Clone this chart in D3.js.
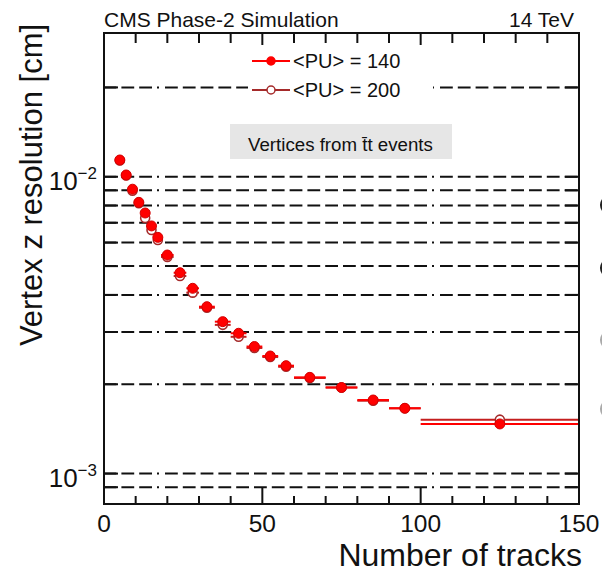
<!DOCTYPE html>
<html><head><meta charset="utf-8">
<script src="https://cdn.jsdelivr.net/npm/d3@7"></script>
<style>body{margin:0;background:#fff}svg{display:block}text{font-family:"Liberation Sans",Arial,sans-serif;fill:#111}</style>
</head><body>
<svg id="c" width="602" height="574"></svg>
<script>
// ---- data ----
const binCenter = [5,7,9,11,13,15,17,20,24,28,32.5,37.5,42.5,47.5,52.5,57.5,65,75,85,95,125];
const binLow    = [4,6,8,10,12,14,16,18,22,26,30,35,40,45,50,55,60,70,80,90,100];
const binHigh   = [6,8,10,12,14,16,18,22,26,30,35,40,45,50,55,60,70,80,90,100,150];
const res140 = [0.01139,0.01014,0.00908,0.00820,0.00755,0.00683,0.00625,0.00545,0.00475,0.00421,0.00365,0.00325,0.00297,0.00268,0.00249,0.00231,0.00211,0.00195,0.00177,0.00166,0.00147];
const res200 = [0.01135,0.01010,0.00897,0.00815,0.00726,0.00662,0.00612,0.00537,0.00463,0.00407,0.00362,0.00317,0.00289,0.00265,0.00247,0.00229,0.00210,0.00195,0.00176,0.00166,0.00152];
const xTickLabels = [0,50,100,150];
const xMinorTicks = [10,20,30,40,60,70,80,90,110,120,130,140];
const yGridValues = [0.02,0.01,0.009,0.008,0.007,0.006,0.005,0.004,0.003,0.002,0.001,0.0009];
const yLabelValues = [0.01,0.001];
const yLabelExp = ["\u22122","\u22123"];
const legendLabels = ["<PU> = 140","<PU> = 200"];

// ---- layout ----
const L=104,R=579,T=33,B=504;
const x=d3.scaleLinear().domain([0,150]).range([L,R]);
const y=d3.scaleLog().domain([0.00079,0.0305]).range([B,T]);
const svg=d3.select("#c");
const c140="#ff0000", c200="#c41e1e", cOpen="#a52a2a";

// gridlines (ROOT-like dash pattern with a dot every 275px)
let pat=[]; for(let i=0;i<15;i++){pat.push(12.8,5);} pat.push(2,6);
svg.append("g").selectAll("line").data(yGridValues).join("line")
  .attr("x1",L).attr("x2",R).attr("y1",d=>y(d)).attr("y2",d=>y(d))
  .attr("stroke","#111").attr("stroke-width",2)
  .attr("stroke-dasharray",pat.join(",")).attr("stroke-dashoffset",214);
// y ticks left/right
svg.append("g").selectAll("line").data(yGridValues).join("line")
  .attr("x1",L).attr("x2",L+14).attr("y1",d=>y(d)).attr("y2",d=>y(d)).attr("stroke","#111").attr("stroke-width",2);
svg.append("g").selectAll("line").data(yGridValues).join("line")
  .attr("x1",R-14).attr("x2",R).attr("y1",d=>y(d)).attr("y2",d=>y(d)).attr("stroke","#111").attr("stroke-width",2);

// x ticks bottom/top
const tk=svg.append("g").attr("stroke","#111").attr("stroke-width",2);
tk.selectAll(".mb").data(xMinorTicks).join("line").attr("x1",d=>x(d)).attr("x2",d=>x(d)).attr("y1",B).attr("y2",B-8);
tk.selectAll(".Mb").data(xTickLabels).join("line").attr("x1",d=>x(d)).attr("x2",d=>x(d)).attr("y1",B).attr("y2",B-16);
tk.selectAll(".mt").data(xMinorTicks).join("line").attr("x1",d=>x(d)).attr("x2",d=>x(d)).attr("y1",T).attr("y2",T+10);
tk.selectAll(".Mt").data(xTickLabels).join("line").attr("x1",d=>x(d)).attr("x2",d=>x(d)).attr("y1",T).attr("y2",T+13);

// legend box (white) over the gridline
svg.append("rect").attr("x",248).attr("y",45).attr("width",185).attr("height",60).attr("fill","#fff");
const lg=svg.append("g");
[0,1].forEach(i=>{
  const yy=61+i*29, col=i?cOpen:c140;
  lg.append("line").attr("x1",252).attr("x2",290).attr("y1",yy).attr("y2",yy).attr("stroke",col).attr("stroke-width",2);
  lg.append("circle").attr("cx",271).attr("cy",yy).attr("r",4).attr("fill",i?"#fff":c140).attr("stroke",col).attr("stroke-width",1.5);
  lg.append("text").attr("x",293).attr("y",yy+7).attr("font-size",20).text(legendLabels[i]);
});

// text box
svg.append("rect").attr("x",230).attr("y",124).attr("width",222).attr("height",35).attr("fill","#e6e6e6");
svg.append("text").attr("x",248).attr("y",151).attr("font-size",18.7).text("Vertices from t\u0304t events");

// data: PU200 first (open), then PU140 (filled)
function series(vals,col,open){
  const g=svg.append("g");
  g.selectAll("line").data(binCenter).join("line")
    .attr("x1",(d,i)=>x(binLow[i])).attr("x2",(d,i)=>x(binHigh[i]))
    .attr("y1",(d,i)=>y(vals[i])).attr("y2",(d,i)=>y(vals[i]))
    .attr("stroke",col).attr("stroke-width",2);
  g.selectAll("circle").data(binCenter).join("circle")
    .attr("cx",d=>x(d)).attr("cy",(d,i)=>y(vals[i])).attr("r",open?4.5:5)
    .attr("fill",open?"#fff":c140).attr("stroke",open?cOpen:"#d40000").attr("stroke-width",open?1.6:1);
}
series(res200,c200,true);
series(res140,c140,false);

// frame
svg.append("rect").attr("x",L).attr("y",T).attr("width",R-L).attr("height",B-T).attr("fill","none").attr("stroke","#111").attr("stroke-width",2);

// axis labels
svg.append("g").selectAll("text").data(xTickLabels).join("text")
  .attr("x",d=>x(d)).attr("y",532).attr("text-anchor","middle").attr("font-size",24.5).text(d=>d);
const yl=svg.append("g").selectAll("text").data(yLabelValues).join("text")
  .attr("x",97).attr("y",d=>y(d)+13).attr("text-anchor","end").attr("font-size",26);
yl.append("tspan").text("10");
yl.append("tspan").attr("font-size",17).attr("dy",-11).text((d,i)=>yLabelExp[i]);

svg.append("text").attr("x",582).attr("y",566).attr("text-anchor","end").attr("font-size",32).text("Number of tracks");
svg.append("text").attr("transform","translate(42,185) rotate(-90)").attr("text-anchor","middle").attr("font-size",31).text("Vertex z resolution [cm]");

svg.append("text").attr("x",104).attr("y",27).attr("font-size",21).text("CMS Phase-2 Simulation");
svg.append("text").attr("x",574).attr("y",27).attr("text-anchor","end").attr("font-size",21).text("14 TeV");

// clipped fragments at right edge (drawn as small arcs)
[[205,"#222"],[268,"#222"],[340,"#aaa"],[409,"#aaa"]].forEach(a=>{
  svg.append("path").attr("d",`M604,${a[0]-7} Q598,${a[0]} 604,${a[0]+7}`)
    .attr("fill","none").attr("stroke",a[1]).attr("stroke-width",2);
});
</script>
</body></html>
